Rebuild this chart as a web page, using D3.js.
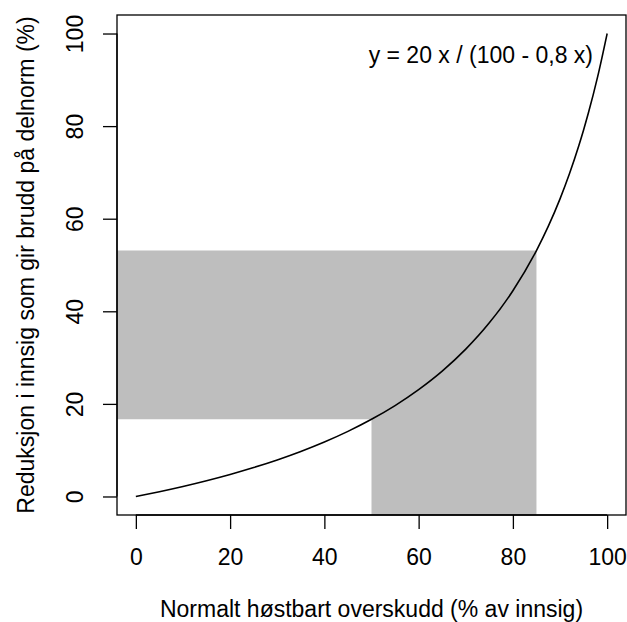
<!DOCTYPE html>
<html>
<head>
<meta charset="utf-8">
<script src="https://cdn.jsdelivr.net/npm/d3@7"></script>
<style>
  body { margin: 0; background: #fff; }
  svg { display: block; font-family: "Liberation Sans", Arial, sans-serif; }
</style>
</head>
<body>
<div id="chart"></div>
<script>
// Curve points (x = overskudd %, y = reduksjon %)
const curveX = [0, 5, 10, 15, 20, 25, 30, 35, 40, 45, 50, 55, 60, 65, 70, 75, 80, 85, 87.5, 90, 92, 94, 95, 96, 98, 100];
const curveY = [0, 1.04, 2.17, 3.41, 4.76, 6.25, 7.89, 9.72, 11.76, 14.06, 16.67, 19.64, 23.08, 27.08, 31.82, 37.5, 44.44, 53.13, 58.33, 64.29, 69.7, 75.81, 79.17, 82.76, 90.74, 100];

// Grey area: x from 50 to 85, y level at 50 and 85
const shadeX = [50, 85];
const shadeY = [16.67, 53.13];

const xTicks = [0, 20, 40, 60, 80, 100];
const yTicks = [0, 20, 40, 60, 80, 100];

const width = 627, height = 622;
const plot = { left: 117, right: 626, top: 15, bottom: 515 };
const fontSize = 23;

const svg = d3.select('#chart').append('svg')
    .attr('width', width)
    .attr('height', height);

// R-style 4% padding around data range
const x = d3.scaleLinear().domain([-4, 104]).range([plot.left, plot.right]);
const y = d3.scaleLinear().domain([-4, 104]).range([plot.bottom, plot.top]);

// grey shaded L-shape
const shade = [
    [x.invert(plot.left), shadeY[0]],
    [shadeX[0], shadeY[0]],
    [shadeX[0], y.invert(plot.bottom)],
    [shadeX[1], y.invert(plot.bottom)],
    [shadeX[1], shadeY[1]],
    [x.invert(plot.left), shadeY[1]]
];
svg.append('path')
    .attr('d', d3.line().x(d => x(d[0])).y(d => y(d[1]))(shade) + 'Z')
    .attr('fill', '#bebebe');

// curve
const pts = curveX.map((v, i) => [v, curveY[i]]);
svg.append('path')
    .attr('d', d3.line().x(d => x(d[0])).y(d => y(d[1])).curve(d3.curveMonotoneX)(pts))
    .attr('fill', 'none')
    .attr('stroke', '#000')
    .attr('stroke-width', 1.6);

// box
svg.append('rect')
    .attr('x', plot.left).attr('y', plot.top)
    .attr('width', plot.right - plot.left).attr('height', plot.bottom - plot.top)
    .attr('fill', 'none').attr('stroke', '#000').attr('stroke-width', 1.3);

// x axis
const xAxis = svg.append('g')
    .attr('transform', `translate(0, ${plot.bottom})`)
    .call(d3.axisBottom(x).tickValues(xTicks).tickSize(14).tickPadding(20).tickFormat(d3.format('d')));
xAxis.select('.domain')
    .attr('d', `M${x(0)},0H${x(100)}`);

// y axis
const yAxis = svg.append('g')
    .attr('transform', `translate(${plot.left}, 0)`)
    .call(d3.axisLeft(y).tickValues(yTicks).tickSize(14).tickFormat(d3.format('d')));
yAxis.select('.domain')
    .attr('d', `M0,${y(0)}V${y(100)}`);
yAxis.selectAll('.tick text')
    .attr('x', 0).attr('dy', 0)
    .attr('transform', 'translate(-34, 0) rotate(-90)')
    .attr('text-anchor', 'middle');

svg.selectAll('.tick line, .domain').attr('stroke', '#000').attr('stroke-width', 1.3);
svg.selectAll('.tick text')
    .attr('font-family', '"Liberation Sans", Arial, sans-serif')
    .attr('font-size', fontSize)
    .attr('fill', '#000');
xAxis.selectAll('.tick text').attr('dy', '0.71em');

// titles
svg.append('text')
    .attr('x', (plot.left + plot.right) / 2)
    .attr('y', 617)
    .attr('text-anchor', 'middle')
    .attr('font-size', fontSize)
    .text('Normalt høstbart overskudd (% av innsig)');

svg.append('text')
    .attr('transform', `translate(34, ${(plot.top + plot.bottom) / 2}) rotate(-90)`)
    .attr('text-anchor', 'middle')
    .attr('font-size', fontSize)
    .text('Reduksjon i innsig som gir brudd på delnorm (%)');

// formula label
svg.append('text')
    .attr('x', 593)
    .attr('y', 63)
    .attr('text-anchor', 'end')
    .attr('font-size', fontSize)
    .text('y = 20 x / (100 - 0,8 x)');
</script>
</body>
</html>
